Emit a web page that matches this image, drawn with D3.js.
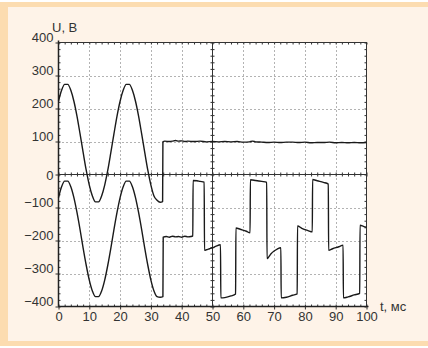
<!DOCTYPE html>
<html>
<head>
<meta charset="utf-8">
<script src="https://cdn.jsdelivr.net/npm/d3@7"></script>
<style>
  body { margin: 0; background: #ffffff; }
  svg { display: block; }
  .tick text { font-family: "Liberation Sans", Arial, sans-serif; font-size: 13px; fill: #333; }
</style>
</head>
<body>
<svg id="chart" width="428" height="348"></svg>
<script>
// upper trace (t, ms / U, V)
var timeA = [0, 1, 2, 3, 4, 5, 6, 7, 8, 9, 10, 11, 12, 13, 14, 15, 16, 17, 18, 19,
  20, 21, 22, 23, 24, 25, 26, 27, 28, 29, 30, 31, 32, 33, 33.8, 33.9,
  34.5, 36, 37, 38, 39, 40, 41, 42, 44, 46, 48, 50, 52, 54, 56, 58, 60, 62, 63, 64,
  66, 68, 70, 72, 74, 76, 78, 80, 82, 84, 86, 88, 90, 92, 94, 96, 98, 100];
var voltA = [222, 255, 273, 273, 255, 222, 177, 123, 67, 13, -32, -65, -83, -83, -65, -32, 13, 67, 123, 177,
  222, 255, 273, 273, 255, 222, 177, 123, 67, 13, -32, -65, -78, -84, -82, 99,
  101, 100, 101, 103, 101, 102, 100, 101, 100, 101, 99, 100, 99, 100, 99, 100, 98, 99, 101, 99,
  98, 97, 98, 97, 98, 98, 97, 98, 96, 97, 97, 98, 96, 97, 96, 97, 96, 97];

// lower trace
var timeB = [0, 1, 2, 3, 4, 5, 6, 7, 8, 9, 10, 11, 12, 13, 14, 15, 16, 17, 18, 19,
  20, 21, 22, 23, 24, 25, 26, 27, 28, 29, 30, 31, 32, 33, 33.9, 34.0,
  35, 36, 37, 38, 39, 40, 41, 42, 43, 43.6,
  43.7, 45, 46, 47.3,
  47.4, 48, 49, 50, 51, 52.6,
  52.7, 54, 56, 57.5,
  57.6, 59, 61, 62.2,
  62.3, 64, 66, 67.6,
  67.7, 69, 70, 71, 72.2,
  72.3, 74, 76, 77.5,
  77.6, 79, 81, 82.4,
  82.5, 84, 86, 87.6,
  87.7, 89, 91, 92.4,
  92.5, 94, 96, 97.8,
  97.9, 99, 100];
var voltB = [-70, -37, -20, -20, -37, -70, -115, -167, -223, -275, -320, -353, -370, -370, -353, -320, -275, -223, -167, -115,
  -70, -37, -20, -20, -37, -70, -115, -167, -223, -275, -320, -353, -370, -372, -370, -190,
  -188, -190, -187, -189, -188, -190, -187, -189, -188, -186,
  -18, -19, -21, -23,
  -230, -228, -225, -222, -218, -213,
  -374, -373, -368, -362,
  -162, -166, -172, -177,
  -16, -18, -21, -24,
  -255, -240, -232, -226, -222,
  -374, -372, -366, -362,
  -156, -163, -170, -174,
  -15, -19, -24, -29,
  -230, -225, -219, -214,
  -374, -371, -365, -360,
  -154, -157, -160];

var xTicks = [0, 10, 20, 30, 40, 50, 60, 70, 80, 90, 100];
var yTicks = [-400, -300, -200, -100, 0, 100, 200, 300, 400];

var svg = d3.select('#chart');

// panel background
svg.append('rect').attr('x', 0).attr('y', 2).attr('width', 428).attr('height', 344).attr('fill', '#fef3e8');
svg.append('rect').attr('x', 0).attr('y', 2).attr('width', 428).attr('height', 5).attr('fill', '#fcdcb0');
svg.append('rect').attr('x', 0).attr('y', 341).attr('width', 428).attr('height', 5).attr('fill', '#fcdcb0');
svg.append('rect').attr('x', 0).attr('y', 2).attr('width', 8).attr('height', 344).attr('fill', '#fcdcb0');

var x = d3.scaleLinear().domain([0, 100]).range([58.5, 366.5]);
var y = d3.scaleLinear().domain([-400, 400]).range([306.5, 42.5]);

// plot area
svg.append('rect')
  .attr('x', x(0)).attr('y', y(400))
  .attr('width', x(100) - x(0)).attr('height', y(-400) - y(400))
  .attr('fill', '#ffffff');

// dotted grid
var grid = svg.append('g').attr('stroke', '#666').attr('stroke-width', 1).attr('stroke-dasharray', '1,3');
grid.selectAll('line.v')
  .data(xTicks.filter(function (d) { return d > 0 && d < 100 && d !== 50; }))
  .enter().append('line')
  .attr('x1', function (d) { return Math.round(x(d)) + 0.5; })
  .attr('x2', function (d) { return Math.round(x(d)) + 0.5; })
  .attr('y1', y(400)).attr('y2', y(-400));
grid.selectAll('line.h')
  .data(yTicks.filter(function (d) { return d > -400 && d < 400 && d !== 0; }))
  .enter().append('line')
  .attr('y1', function (d) { return Math.round(y(d)) + 0.5; })
  .attr('y2', function (d) { return Math.round(y(d)) + 0.5; })
  .attr('x1', x(0)).attr('x2', x(100));

// minor tick sets
var minorX = d3.range(0, 101, 2);
var minorY = d3.range(-400, 401, 20);

function styleAxis(g) {
  g.select('.domain').remove();
  g.selectAll('.tick line').attr('stroke', '#333');
}

// bottom axis, labels + outward major ticks
svg.append('g')
  .attr('transform', 'translate(0,' + y(-400) + ')')
  .call(d3.axisBottom(x).tickValues(xTicks).tickSize(3).tickPadding(2.5).tickFormat(d3.format('d')))
  .call(styleAxis);
// bottom inward minor ticks
svg.append('g')
  .attr('transform', 'translate(0,' + y(-400) + ')')
  .call(d3.axisTop(x).tickValues(minorX).tickSize(2).tickFormat(''))
  .call(styleAxis);
// top inward minor ticks
svg.append('g')
  .attr('transform', 'translate(0,' + y(400) + ')')
  .call(d3.axisBottom(x).tickValues(minorX).tickSize(2).tickFormat(''))
  .call(styleAxis);
// zero line crossing ticks
svg.append('g')
  .attr('transform', 'translate(0,' + (y(0) - 2) + ')')
  .call(d3.axisBottom(x).tickValues(minorX).tickSize(4).tickFormat(''))
  .call(styleAxis);

// left axis labels + outward major ticks
svg.append('g')
  .attr('transform', 'translate(' + x(0) + ',0)')
  .call(d3.axisLeft(y).tickValues(yTicks).tickSize(3).tickPadding(2).tickFormat(d3.format('d')))
  .call(styleAxis)
  .selectAll('text')
  .attr('dy', function (d) { return d === 0 ? '0.35em' : '-1px'; });
// left inward minor ticks
svg.append('g')
  .attr('transform', 'translate(' + x(0) + ',0)')
  .call(d3.axisRight(y).tickValues(minorY).tickSize(2).tickFormat(''))
  .call(styleAxis);
// right inward minor ticks
svg.append('g')
  .attr('transform', 'translate(' + x(100) + ',0)')
  .call(d3.axisLeft(y).tickValues(minorY).tickSize(2).tickFormat(''))
  .call(styleAxis);
// t = 50 crossing ticks
svg.append('g')
  .attr('transform', 'translate(' + (x(50) - 2) + ',0)')
  .call(d3.axisRight(y).tickValues(minorY).tickSize(4).tickFormat(''))
  .call(styleAxis);

// solid lines: frame, zero line, t = 50
var frame = svg.append('g').attr('stroke', '#333').attr('stroke-width', 1).attr('fill', 'none');
frame.append('rect')
  .attr('x', x(0)).attr('y', y(400))
  .attr('width', x(100) - x(0)).attr('height', y(-400) - y(400));
frame.append('line').attr('x1', x(0)).attr('x2', x(100)).attr('y1', y(0)).attr('y2', y(0));
frame.append('line').attr('x1', x(50)).attr('x2', x(50)).attr('y1', y(400)).attr('y2', y(-400));
svg.append('line').attr('x1', x(0)).attr('x2', x(0)).attr('y1', y(400) - 2).attr('y2', y(-400))
  .attr('stroke', '#222').attr('stroke-width', 1.5);
svg.append('line').attr('x1', x(0)).attr('x2', x(100) + 2).attr('y1', y(-400)).attr('y2', y(-400))
  .attr('stroke', '#222').attr('stroke-width', 1.5);

// traces
var line = d3.line()
  .x(function (d) { return x(d[0]); })
  .y(function (d) { return y(d[1]); })
  .curve(d3.curveMonotoneX);

var dataA = d3.zip(timeA, voltA);
var dataB = d3.zip(timeB, voltB);

[dataA, dataB].forEach(function (data) {
  svg.append('path')
    .datum(data)
    .attr('d', line)
    .attr('fill', 'none')
    .attr('stroke', '#1a1a1a')
    .attr('stroke-width', 1.4)
    .attr('stroke-linejoin', 'round');
});

// axis titles
svg.append('text')
  .attr('x', 52).attr('y', 32)
  .style('font-family', '"Liberation Sans", Arial, sans-serif')
  .style('font-size', '13px')
  .attr('fill', '#333')
  .text('U, В');
svg.append('text')
  .attr('x', 380).attr('y', 311)
  .style('font-family', '"Liberation Sans", Arial, sans-serif')
  .style('font-size', '13px')
  .attr('fill', '#333')
  .text('t, мс');
</script>
</body>
</html>
